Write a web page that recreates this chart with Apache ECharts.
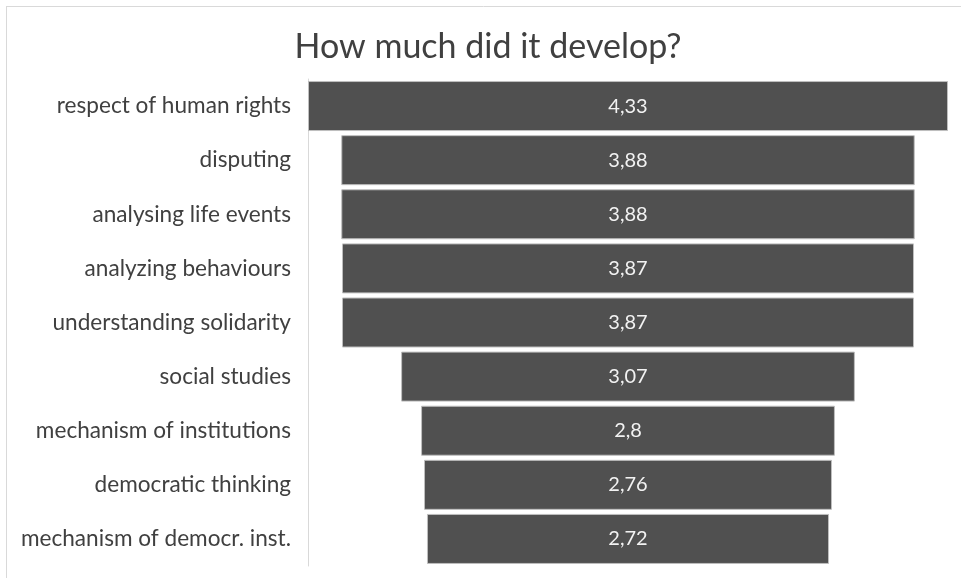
<!DOCTYPE html>
<html>
<head>
<meta charset="utf-8">
<script src="https://cdn.jsdelivr.net/npm/echarts@6/dist/echarts.min.js"></script>
<style>
  html, body { margin: 0; padding: 0; background: #fff; }
  #chart { width: 961px; height: 578px; }
</style>
</head>
<body>
<div id="chart"></div>
<script>
var categories = [
  'respect of human rights',
  'disputing',
  'analysing life events',
  'analyzing behaviours',
  'understanding solidarity',
  'social studies',
  'mechanism of institutions',
  'democratic thinking',
  'mechanism of democr. inst.'
]
var values = [4.33, 3.88, 3.88, 3.87, 3.87, 3.07, 2.8, 2.76, 2.72]
var maxValue = 4.33

// invisible spacer so each bar sits centred, like a funnel
var spacer = values.map(function (v) { return (maxValue - v) / 2 })

var myChart = echarts.init(document.getElementById('chart'))
var font = 'Lato, "Open Sans", sans-serif'

var option = {
  animation: false,
  title: {
    text: 'How much did it develop?',
    left: 483,
    textAlign: 'center',
    top: 25,
    textStyle: { fontFamily: font, fontSize: 34, fontWeight: 'normal', color: '#404040' }
  },
  graphic: [
    { type: 'line', shape: { x1: 6, y1: 6.5, x2: 961, y2: 6.5 }, style: { stroke: '#d9d9d9', lineWidth: 1 } },
    { type: 'line', shape: { x1: 6.5, y1: 6, x2: 6.5, y2: 578 }, style: { stroke: '#d9d9d9', lineWidth: 1 } }
  ],
  grid: { left: 308, right: 13, top: 79, bottom: 12 },
  xAxis: {
    type: 'value',
    min: 0,
    max: maxValue,
    show: false
  },
  yAxis: {
    type: 'category',
    inverse: true,
    data: categories,
    axisTick: { show: false },
    axisLine: { show: true, lineStyle: { color: '#d9d9d9', width: 1 } },
    axisLabel: { fontFamily: font, fontSize: 22.6, color: '#404040', margin: 17 }
  },
  series: [
    {
      type: 'bar',
      stack: 'f',
      data: spacer,
      itemStyle: { color: 'transparent' },
      silent: true,
      barWidth: 50
    },
    {
      type: 'bar',
      stack: 'f',
      data: values,
      barWidth: 50,
      itemStyle: { color: '#505050', borderColor: '#bfbfbf', borderWidth: 1 },
      label: {
        show: true,
        position: 'inside',
        fontFamily: font,
        fontSize: 20,
        color: '#f2f2f2',
        formatter: function (p) { return String(p.value).replace('.', ',') }
      }
    }
  ]
}
myChart.setOption(option)
</script>
</body>
</html>
